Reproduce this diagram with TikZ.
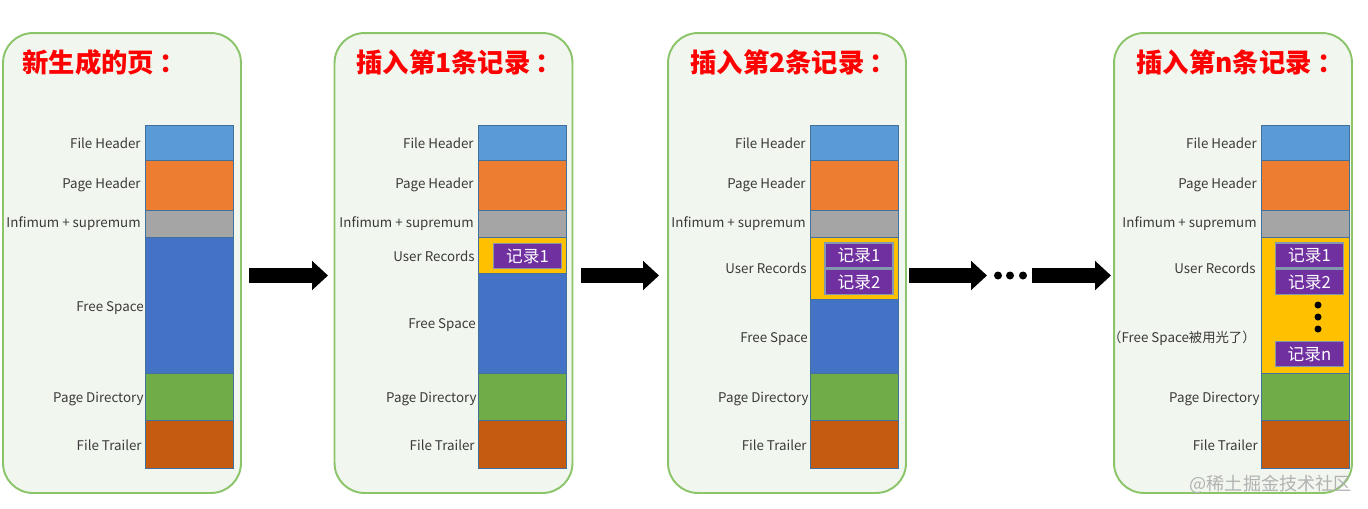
\documentclass[tikz,border=0pt]{standalone}
\usepackage{fontspec}
\setmainfont{Noto Sans CJK SC}
\usetikzlibrary{arrows.meta,positioning}

\definecolor{panelgreen}{HTML}{8CC46A}
\definecolor{panelbg}{HTML}{F1F6EE}
\definecolor{fhblue}{HTML}{5B9BD5}
\definecolor{phorange}{HTML}{ED7D31}
\definecolor{infgray}{HTML}{A5A5A5}
\definecolor{fsblue}{HTML}{4472C4}
\definecolor{urgold}{HTML}{FFC000}
\definecolor{pdgreen}{HTML}{70AD47}
\definecolor{ftbrown}{HTML}{C55A11}
\definecolor{partline}{HTML}{41719C}
\definecolor{recpurple}{HTML}{7030A0}
\definecolor{recline}{HTML}{8497B0}
\definecolor{labelgray}{HTML}{3A3A3A}

\newcommand{\tcolon}{\kern3pt：}

\tikzset{
  panel/.style={draw=panelgreen, fill=panelbg, line width=1.1pt, rounded corners=17pt,
    minimum width=4.76cm, minimum height=9.2cm, inner sep=0pt},
  part/.style={draw=partline, line width=0.4pt},
  lbl/.style={anchor=east, inner sep=0pt, yshift=-1pt, text=labelgray, font=\fontsize{7.6}{9}\selectfont},
  pagetitle/.style={anchor=west, inner sep=0pt, text=red, font=\fontsize{15}{18}\selectfont\bfseries},
  rec/.style={draw=recline, fill=recpurple, text=white, line width=0.8pt, inner sep=0pt,
    minimum width=1.36cm, minimum height=0.5cm, font=\fontsize{9.5}{11}\selectfont},
  bigarrow/.style={line width=8.5pt, -{Triangle[length=9pt,width=16pt]}},
}

\begin{document}
\begin{tikzpicture}[x=0.02cm, y=-0.02cm]
\useasboundingbox (0,0) rectangle (1368,508);

% pages
\node[panel] (page1) at (122,263) {};
\node[panel] (page2) at (453.5,263) {};
\node[panel] (page3) at (787,263) {};
\node[panel] (page4) at (1233,263) {};

\node[pagetitle] (title1) at (22,62) {新生成的页\tcolon};
\node[pagetitle] (title2) at (356,62) {插入第1条记录\tcolon};
\node[pagetitle] (title3) at (690,62) {插入第2条记录\tcolon};
\node[pagetitle] (title4) at (1136,62) {插入第n条记录\tcolon};

% parts that every page has
\foreach \cx in {145,478,810,1261} {
  \filldraw[part, fill=fhblue] (\cx,125) rectangle (\cx+88,160);
  \filldraw[part, fill=phorange] (\cx,160) rectangle (\cx+88,210);
  \filldraw[part, fill=infgray] (\cx,210) rectangle (\cx+88,237);
  \filldraw[part, fill=pdgreen] (\cx,373) rectangle (\cx+88,420);
  \filldraw[part, fill=ftbrown] (\cx,420) rectangle (\cx+88,468);
  \node[lbl] at (\cx-4,142) {File Header};
  \node[lbl] at (\cx-4,183) {Page Header};
  \node[lbl] at (\cx-4,222) {Infimum + supremum};
  \node[lbl] at (\cx-1,397) {Page Directory};
  \node[lbl] at (\cx-3,444) {File Trailer};
}

% page 1
\filldraw[part, fill=fsblue] (145,237) rectangle (233,373);
\node[lbl] at (144,306) {Free Space};

% page 2
\filldraw[part, fill=urgold] (478,237) rectangle (566,273);
\filldraw[part, fill=fsblue] (478,273) rectangle (566,373);
\node[rec] (rec21) at (527.5,256) {记录1};
\node[lbl] at (475,255) {User Records};
\node[lbl] at (476,323) {Free Space};

% page 3
\filldraw[part, fill=urgold] (810,237) rectangle (898,299);
\filldraw[part, fill=fsblue] (810,299) rectangle (898,373);
\node[rec] (rec31) at (859,255.5) {记录1};
\node[rec, below=0pt of rec31] (rec32) {记录2};
\node[lbl] at (807,267) {User Records};
\node[lbl] at (808,337) {Free Space};

% page 4
\filldraw[part, fill=urgold] (1261,237) rectangle (1349,373);
\node[rec] (rec41) at (1309.5,255.5) {记录1};
\node[rec, below=0pt of rec41] (rec42) {记录2};
\node[rec] (rec4n) at (1309.5,354) {记录n};
\fill (1318,305) circle[radius=3.5];
\fill (1318,317) circle[radius=3.5];
\fill (1318,329) circle[radius=3.5];
\node[lbl] at (1256,267) {User Records};
\node[lbl] at (1256,337) {（Free Space被用光了）};

% arrows between pages
\coordinate (a1s) at (249,275.5);
\coordinate (a1e) at (328,275.5);
\coordinate (a2s) at (581,275.5);
\coordinate (a2e) at (659,275.5);
\coordinate (a3s) at (909,275.5);
\coordinate (a3e) at (987,275.5);
\coordinate (a4s) at (1032,275.5);
\coordinate (a4e) at (1111,275.5);
\draw[bigarrow] (a1s) -- (a1e);
\draw[bigarrow] (a2s) -- (a2e);
\draw[bigarrow] (a3s) -- (a3e);
\draw[bigarrow] (a4s) -- (a4e);
\fill (998,275.5) circle[radius=4];
\fill (1010,275.5) circle[radius=4];
\fill (1023,275.5) circle[radius=4];

% watermark
\node[anchor=east, inner sep=0pt, text=black!30, font=\fontsize{10.3}{12}\selectfont] (mark) at (1352,484) {@稀土掘金技术社区};
\end{tikzpicture}
\end{document}
